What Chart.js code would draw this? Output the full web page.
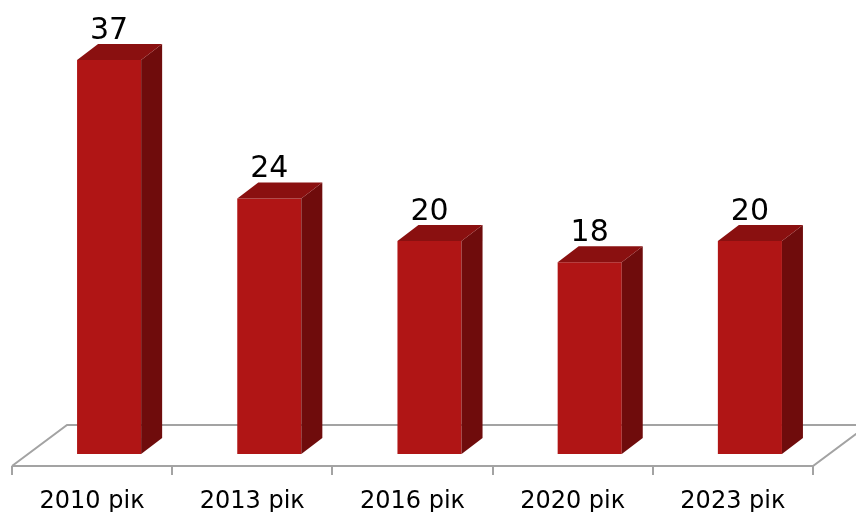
<!DOCTYPE html>
<html>
<head>
<meta charset="utf-8">
<script src="https://cdn.jsdelivr.net/npm/chart.js@4/dist/chart.umd.min.js"></script>
<style>
  html, body { margin: 0; padding: 0; background: #ffffff; }
  #wrap { width: 856px; height: 515px; }
</style>
</head>
<body>
<div id="wrap"><canvas id="c" width="856" height="515"></canvas></div>
<script>
// Survey years and values
const categories = ['2010 рік', '2013 рік', '2016 рік', '2020 рік', '2023 рік'];
const values = [37, 24, 20, 18, 20];

// Colours of the box faces and floor
const FRONT = '#b01515';
const TOP = '#8a1010';
const SIDE = '#6f0c0c';
const FLOOR = '#a3a3a3';

// Perspective offsets (pixels)
const BAR_DX = 21, BAR_DY = -16;      // depth of each box
const FLOOR_DX = 55, FLOOR_DY = -41;  // depth of the floor
const SHIFT = 17;                      // front floor edge sits left of the boxes
const FLOOR_DROP = 12;                 // front floor edge below the box bottoms

const FONT = '"DejaVu Sans", "Liberation Sans", sans-serif';

const floorPlugin = {
  id: 'floor3d',
  beforeDatasetsDraw(chart) {
    const { ctx, scales: { x, y } } = chart;
    const yf = y.getPixelForValue(0) + FLOOR_DROP;
    const yb = yf + FLOOR_DY;
    const n = categories.length;
    const step = (x.right - x.left) / n;
    const xl = x.left - SHIFT;
    const xr = x.right - SHIFT;
    ctx.save();
    ctx.strokeStyle = FLOOR;
    ctx.lineWidth = 2;
    ctx.beginPath();
    ctx.moveTo(xl, yf);
    ctx.lineTo(xl + FLOOR_DX, yb);
    ctx.lineTo(xr + FLOOR_DX, yb);
    ctx.lineTo(xr, yf);
    ctx.lineTo(xl, yf);
    ctx.stroke();
    // category separators below the front edge
    ctx.beginPath();
    for (let i = 0; i <= n; i++) {
      const px = Math.round(xl + i * step);
      ctx.moveTo(px, yf);
      ctx.lineTo(px, yf + 9);
    }
    ctx.stroke();
    ctx.restore();
  },
  afterDatasetsDraw(chart) {
    const { ctx } = chart;
    const meta = chart.getDatasetMeta(0);
    ctx.save();
    meta.data.forEach((bar, i) => {
      const { x, y, base, width } = bar.getProps(['x', 'y', 'base', 'width'], true);
      const l = x - width / 2, r = x + width / 2;
      // side face
      ctx.fillStyle = SIDE;
      ctx.beginPath();
      ctx.moveTo(r, y);
      ctx.lineTo(r + BAR_DX, y + BAR_DY);
      ctx.lineTo(r + BAR_DX, base + BAR_DY);
      ctx.lineTo(r, base);
      ctx.closePath();
      ctx.fill();
      // top face
      ctx.fillStyle = TOP;
      ctx.beginPath();
      ctx.moveTo(l, y);
      ctx.lineTo(l + BAR_DX, y + BAR_DY);
      ctx.lineTo(r + BAR_DX, y + BAR_DY);
      ctx.lineTo(r, y);
      ctx.closePath();
      ctx.fill();
      // value label
      ctx.fillStyle = '#000000';
      ctx.font = '30px ' + FONT;
      ctx.textAlign = 'center';
      ctx.textBaseline = 'alphabetic';
      ctx.fillText(String(values[i]), x, y - 21);
    });
    ctx.restore();
  }
};

new Chart(document.getElementById('c'), {
  type: 'bar',
  data: {
    labels: categories,
    datasets: [{
      data: values,
      backgroundColor: FRONT,
      borderWidth: 0,
      barPercentage: 0.4,
      categoryPercentage: 1.0
    }]
  },
  options: {
    responsive: false,
    animation: false,
    devicePixelRatio: 1,
    layout: { padding: { top: 60, left: 29, right: 26, bottom: 3 } },
    plugins: { legend: { display: false }, tooltip: { enabled: false } },
    scales: {
      y: { display: false, min: 0, max: 37 },
      x: {
        grid: { display: false, drawTicks: false },
        border: { display: false },
        afterFit(scale) { scale.height = 58; },
        ticks: {
          color: '#000000',
          font: { family: FONT, size: 24 },
          padding: 33,
          labelOffset: -SHIFT,
          maxRotation: 0,
          autoSkip: false
        }
      }
    }
  },
  plugins: [floorPlugin]
});
</script>
</body>
</html>
